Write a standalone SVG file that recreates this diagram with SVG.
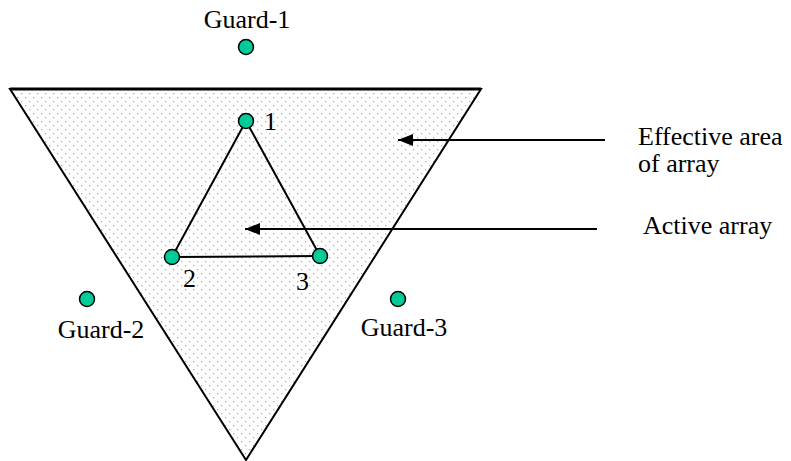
<svg xmlns="http://www.w3.org/2000/svg" width="791" height="461" viewBox="0 0 791 461">
<defs>
<pattern id="dots" x="0" y="0" width="8" height="8" patternUnits="userSpaceOnUse">
<rect x="1" y="1" width="1.3" height="1.3" fill="#adadad"/>
<rect x="5" y="5" width="1.3" height="1.3" fill="#adadad"/>
</pattern>
<marker id="arrow" markerWidth="16" markerHeight="12" refX="15" refY="6" orient="auto" markerUnits="userSpaceOnUse">
<path d="M0,0 L15,6 L0,12 Z" fill="#000"/>
</marker>
</defs>
<style>
text{font-family:"Liberation Serif","Times New Roman",serif;font-size:26px;fill:#000}
.node{fill:#00cc99;stroke:#000;stroke-width:1.5}
.edge{stroke:#000;stroke-width:2;fill:none}
</style>
<rect width="791" height="461" fill="#fff"/>
<g id="effective-area">
<polygon points="10,89 481,89 246,460" fill="url(#dots)" stroke="#000" stroke-width="2"/>
<line x1="10" y1="89" x2="481" y2="89" stroke="#000" stroke-width="3"/>
</g>
<g id="connectors">
<line class="edge" x1="246" y1="121" x2="172" y2="257"/>
<line class="edge" x1="246" y1="121" x2="320" y2="256"/>
<line class="edge" x1="172" y1="257" x2="320" y2="256"/>
<line class="edge" x1="605" y1="140" x2="398" y2="140" marker-end="url(#arrow)"/>
<line class="edge" x1="597" y1="229" x2="245" y2="229" marker-end="url(#arrow)"/>
</g>
<g id="guard-1"><circle class="node" cx="246" cy="47" r="7.5"/><text x="247" y="28" text-anchor="middle">Guard-1</text></g>
<g id="guard-2"><circle class="node" cx="87" cy="299" r="7.5"/><text x="101" y="338" text-anchor="middle">Guard-2</text></g>
<g id="guard-3"><circle class="node" cx="398" cy="299" r="7.5"/><text x="404" y="336" text-anchor="middle">Guard-3</text></g>
<g id="node-1"><circle class="node" cx="246" cy="121" r="7.5"/><text x="264" y="130">1</text></g>
<g id="node-2"><circle class="node" cx="172" cy="257" r="7.5"/><text x="183" y="287">2</text></g>
<g id="node-3"><circle class="node" cx="320" cy="256" r="7.5"/><text x="296" y="290">3</text></g>
<g id="label-effective"><text x="638" y="145">Effective area</text><text x="638" y="172">of array</text></g>
<g id="label-active"><text x="643" y="234">Active array</text></g>
</svg>
